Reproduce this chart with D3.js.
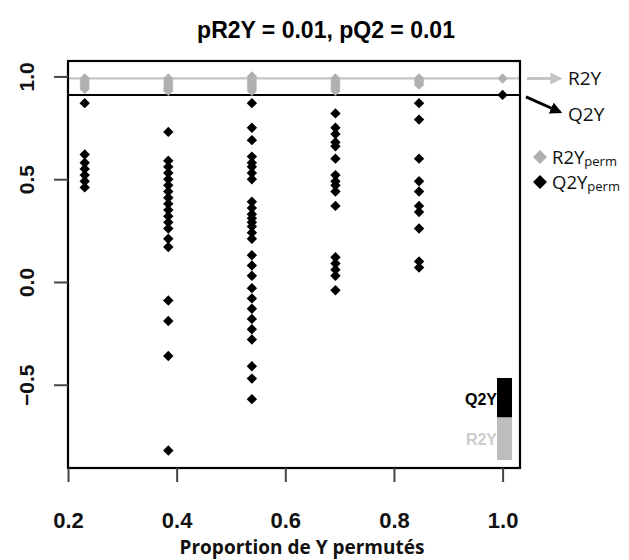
<!DOCTYPE html>
<html><head><meta charset="utf-8">
<script src="https://cdn.jsdelivr.net/npm/d3@7"></script>
<style>body{margin:0;background:#fff}svg{display:block}</style>
</head><body>
<svg id="chart" width="629" height="560"></svg>
<script>
// ---- data ----
const title = "pR2Y = 0.01, pQ2 = 0.01";
const xLabel = "Proportion de Y permutés";
const xTicks = [0.2, 0.4, 0.6, 0.8, 1.0];
const yTicks = [-0.5, 0.0, 0.5, 1.0];
const proportions = [3/13, 5/13, 7/13, 9/13, 11/13, 1.0];
const r2yPerm = [
  [0.99, 0.98, 0.97, 0.96, 0.95, 0.94],
  [0.99, 0.98, 0.97, 0.96, 0.95, 0.94, 0.93],
  [1.00, 0.99, 0.98, 0.97, 0.96, 0.95, 0.94, 0.93],
  [0.99, 0.98, 0.97, 0.96, 0.95, 0.94, 0.93],
  [0.99, 0.98, 0.97, 0.96],
  [0.99]
];
const q2yPerm = [
  [0.87, 0.62, 0.58, 0.55, 0.52, 0.49, 0.46],
  [0.73, 0.59, 0.56, 0.53, 0.50, 0.47, 0.44, 0.41, 0.38, 0.35, 0.32, 0.29, 0.26, 0.21, 0.17, -0.09, -0.19, -0.36, -0.82],
  [0.87, 0.75, 0.69, 0.61, 0.58, 0.56, 0.53, 0.50, 0.39, 0.36, 0.33, 0.31, 0.29, 0.27, 0.24, 0.21, 0.13, 0.08, 0.03, -0.03, -0.08, -0.13, -0.18, -0.23, -0.28, -0.41, -0.47, -0.57],
  [0.82, 0.75, 0.72, 0.68, 0.66, 0.60, 0.52, 0.49, 0.47, 0.44, 0.37, 0.12, 0.09, 0.06, 0.03, -0.04],
  [0.87, 0.79, 0.60, 0.49, 0.44, 0.37, 0.34, 0.26, 0.10, 0.07],
  [0.91]
];
const r2yModel = 0.99;
const q2yModel = 0.91;
const legendLabels = ["R2Y", "Q2Y"];

// ---- layout ----
const svg = d3.select("#chart");
const box = {left: 68, right: 520, top: 61, bottom: 468};
const x = d3.scaleLinear().domain([0.2, 1.032]).range([box.left, box.right]);
const y = d3.scaleLinear().domain([-0.905, 1.075]).range([box.bottom, box.top]);
const grey = "#b0b0b0";
const lineGrey = "#c4c4c4";
const diamond = s => `M0,${-s}L${s},0L0,${s}L${-s},0Z`;

svg.append("defs").html(`
  <marker id="ahG" viewBox="0 0 10 10" refX="8" refY="5" markerWidth="4" markerHeight="4" orient="auto"><path d="M0,0L10,5L0,10Z" fill="${lineGrey}"/></marker>
  <marker id="ahB" viewBox="0 0 10 10" refX="8" refY="5" markerWidth="4" markerHeight="4" orient="auto"><path d="M0,0L10,5L0,10Z" fill="#000"/></marker>`);

// title
svg.append("text").attr("x", 326).attr("y", 38).attr("text-anchor", "middle")
  .attr("font-family", "Liberation Sans, Arial, sans-serif").attr("font-weight", "bold")
  .attr("font-size", 23).text(title);

// reference lines
svg.append("line").attr("x1", box.left).attr("x2", box.right)
  .attr("y1", y(r2yModel)).attr("y2", y(r2yModel)).attr("stroke", lineGrey).attr("stroke-width", 2.2);
svg.append("line").attr("x1", box.left).attr("x2", box.right)
  .attr("y1", y(q2yModel)).attr("y2", y(q2yModel)).attr("stroke", "#000").attr("stroke-width", 2);

// points
const ptsR = proportions.flatMap((p, i) => r2yPerm[i].map(v => [p, v]));
const ptsQ = proportions.flatMap((p, i) => q2yPerm[i].map(v => [p, v]));
svg.append("g").selectAll("path").data(ptsR).join("path")
  .attr("d", diamond(5.2)).attr("fill", grey)
  .attr("transform", d => `translate(${x(d[0])},${y(d[1])})`);
svg.append("g").selectAll("path").data(ptsQ).join("path")
  .attr("d", diamond(5.2)).attr("fill", "#000")
  .attr("transform", d => `translate(${x(d[0])},${y(d[1])})`);

// box
svg.append("rect").attr("x", box.left).attr("y", box.top)
  .attr("width", box.right - box.left).attr("height", box.bottom - box.top)
  .attr("fill", "none").attr("stroke", "#000").attr("stroke-width", 2.2);

// axes
const xAxis = d3.axisBottom(x).tickValues(xTicks).tickFormat(d3.format(".1f")).tickSize(14).tickPadding(30);
const gx = svg.append("g").attr("transform", `translate(0,${box.bottom})`).call(xAxis);
gx.select(".domain").remove();
gx.selectAll(".tick line").attr("stroke", "#444").attr("stroke-width", 2);
gx.selectAll(".tick text").attr("font-family", "Liberation Sans, Arial, sans-serif")
  .attr("font-weight", "bold").attr("font-size", 22).attr("fill", "#111");

const yAxis = d3.axisLeft(y).tickValues(yTicks).tickFormat(d3.format(".1f")).tickSize(14);
const gy = svg.append("g").attr("transform", `translate(${box.left},0)`).call(yAxis);
gy.select(".domain").remove();
gy.selectAll(".tick line").attr("stroke", "#444").attr("stroke-width", 2);
gy.selectAll(".tick text").attr("font-family", "Liberation Sans, Arial, sans-serif")
  .attr("font-weight", "bold").attr("font-size", 21).attr("fill", "#111")
  .attr("text-anchor", "middle").attr("x", 0).attr("dy", 0)
  .attr("transform", "translate(-34,0) rotate(-90)")
  .text(d => d3.format(".1f")(d).replace("-", "\u2212"));

// x label
svg.append("text").attr("x", 302).attr("y", 554).attr("text-anchor", "middle")
  .attr("font-family", "Open Sans, sans-serif").attr("font-weight", "bold")
  .attr("font-size", 19).attr("fill", "#111").text(xLabel);

// arrows + labels on the right
svg.append("line").attr("x1", 527).attr("x2", 560).attr("y1", y(r2yModel)).attr("y2", y(r2yModel))
  .attr("stroke", lineGrey).attr("stroke-width", 3).attr("marker-end", "url(#ahG)");
svg.append("line").attr("x1", 526).attr("x2", 560).attr("y1", y(q2yModel) + 2).attr("y2", 112)
  .attr("stroke", "#000").attr("stroke-width", 3).attr("marker-end", "url(#ahB)");
svg.append("text").attr("x", 568).attr("y", y(r2yModel) + 7).attr("font-family", "Open Sans, sans-serif")
  .attr("font-size", 19).attr("fill", "#111").text(legendLabels[0]);
svg.append("text").attr("x", 568).attr("y", 121).attr("font-family", "Open Sans, sans-serif")
  .attr("font-size", 19).attr("fill", "#111").text(legendLabels[1]);

// legend
const leg = [{lab: legendLabels[0], col: grey, yy: 157}, {lab: legendLabels[1], col: "#000", yy: 182}];
leg.forEach(l => {
  svg.append("path").attr("d", diamond(7)).attr("fill", l.col).attr("transform", `translate(540,${l.yy})`);
  const t = svg.append("text").attr("x", 552).attr("y", l.yy + 6.5).attr("font-family", "Open Sans, sans-serif")
    .attr("font-size", 18.5).attr("fill", "#111");
  t.append("tspan").text(l.lab);
  t.append("tspan").attr("font-size", 13).attr("dy", 2).text("perm");
});

// inset mini bars
const inset = d3.scaleLinear().domain([0, r2yModel + q2yModel]).range([460, 378]);
svg.append("rect").attr("x", 497).attr("width", 15).attr("y", inset(r2yModel)).attr("height", inset(0) - inset(r2yModel)).attr("fill", "#bdbdbd");
svg.append("rect").attr("x", 497).attr("width", 15).attr("y", inset(r2yModel + q2yModel)).attr("height", inset(r2yModel) - inset(r2yModel + q2yModel)).attr("fill", "#000");
svg.append("text").attr("x", 497).attr("y", 405).attr("text-anchor", "end")
  .attr("font-family", "Liberation Sans, Arial, sans-serif").attr("font-weight", "bold")
  .attr("font-size", 16).attr("fill", "#000").text(legendLabels[1]);
svg.append("text").attr("x", 497).attr("y", 445).attr("text-anchor", "end")
  .attr("font-family", "Liberation Sans, Arial, sans-serif").attr("font-weight", "bold")
  .attr("font-size", 16).attr("fill", "#cccccc").text(legendLabels[0]);
</script>
</body></html>
